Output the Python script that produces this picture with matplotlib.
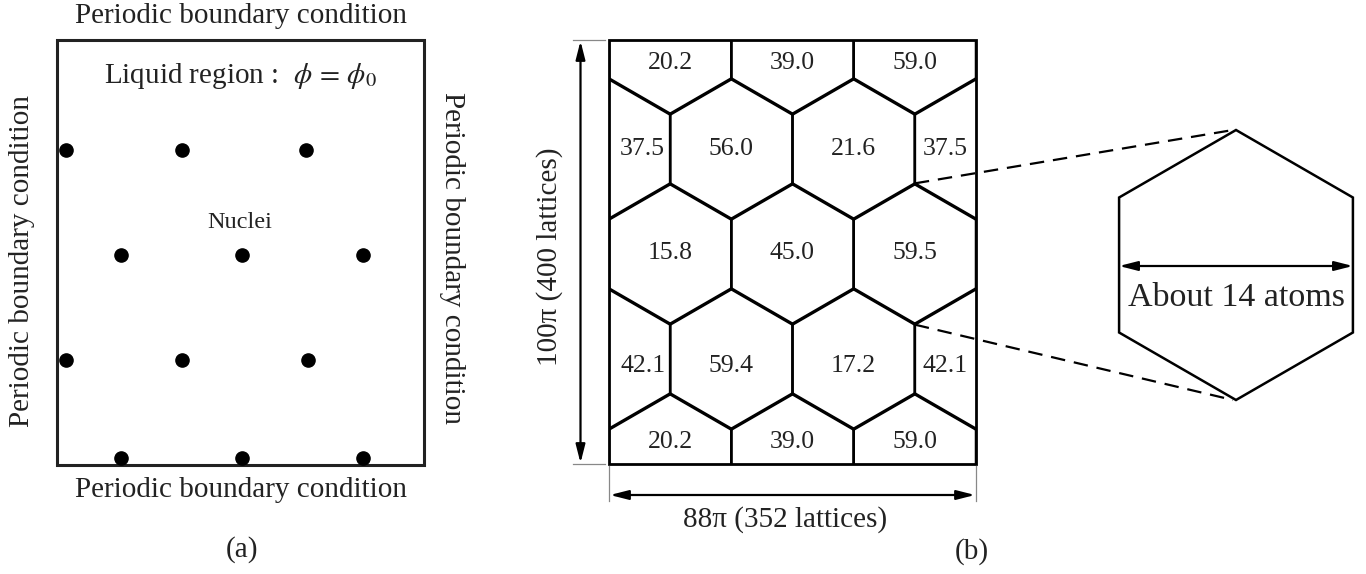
import numpy as np
import matplotlib
matplotlib.use('Agg')
from matplotlib import pyplot as plt
from matplotlib.patches import Polygon, Rectangle

plt.rcParams['font.family'] = ['Liberation Serif', 'DejaVu Serif']
plt.rcParams['mathtext.fontset'] = 'stix'

# panel (a): nuclei positions (pixels)
nuclei_x = [66, 182, 306, 121, 242, 363, 66, 182, 308, 121, 242, 363]
nuclei_y = [150, 150, 150, 255, 255, 255, 360, 360, 360, 458, 458, 458]

# panel (b): grain orientation labels, row by row (top to bottom)
grain_rows = [
    ['20.2', '39.0', '59.0'],
    ['37.5', '56.0', '21.6', '37.5'],
    ['15.8', '45.0', '59.5'],
    ['42.1', '59.4', '17.2', '42.1'],
    ['20.2', '39.0', '59.0'],
]
row_label_dy = [19, 0, -1, 7, -22]

pbc = 'Periodic boundary condition'
H_LABEL = '100\u03c0 (400 lattices)'
W_LABEL = '88\u03c0 (352 lattices)'
ZOOM_LABEL = 'About 14 atoms'


def hexagon(cx, cy, R):
    hw = R * np.sqrt(3) / 2
    return [(cx, cy - R), (cx + hw, cy - R / 2), (cx + hw, cy + R / 2),
            (cx, cy + R), (cx - hw, cy + R / 2), (cx - hw, cy - R / 2)]


fig = plt.figure(figsize=(13.66, 5.74), dpi=100)
ax = fig.add_axes([0, 0, 1, 1])
ax.set_xlim(0, 1366)
ax.set_ylim(574, 0)
ax.axis('off')

# ---------- (a) ----------
ax.add_patch(Rectangle((57, 40), 367, 425, fill=False, lw=2.2, ec='#222222'))
ax.plot(nuclei_x, nuclei_y, 'o', color='k', ms=9.5)
ax.text(241, 16, pbc, fontsize=21, ha='center', va='center', color='#222222')
ax.text(241, 490, pbc, fontsize=21, ha='center', va='center', color='#222222')
ax.text(22, 261, pbc, fontsize=21, ha='center', va='center', rotation=90, color='#222222')
ax.text(452, 258, pbc, fontsize=21, ha='center', va='center', rotation=270, color='#222222')
ax.text(240, 76, r'Liquid region :  $\phi\,=\,\phi_0$', fontsize=21, ha='center', va='center',
        color='#222222')
ax.text(240, 223, 'Nuclei', fontsize=17.5, ha='center', va='center', color='#222222')
ax.text(242, 550, '(a)', fontsize=21, ha='center', va='center', color='#222222')

# ---------- (b) ----------
x0, x1, y0, y1 = 609, 976, 40, 464
hw = (x1 - x0) / 6
R = hw * 2 / np.sqrt(3)
dy_row = 105
yc0 = y1 - 4 * dy_row

box = Rectangle((x0, y0), x1 - x0, y1 - y0, fill=False, lw=2, ec='k')
ax.add_patch(box)

for r, labels in enumerate(grain_rows):
    cy = yc0 + r * dy_row
    if r % 2 == 0:
        cxs = [x0 + hw * k for k in (1, 3, 5)]
        lxs = cxs
    else:
        cxs = [x0 + hw * k for k in (0, 2, 4, 6)]
        lxs = [x0 + 0.55 * hw, cxs[1], cxs[2], x1 - 0.5 * hw]
    for cx in cxs:
        p = Polygon(hexagon(cx, cy, R), closed=True, fill=False, lw=1.8, ec='k')
        ax.add_patch(p)
        p.set_clip_path(box)
    for lx, lab in zip(lxs, labels):
        ax.text(lx, cy + row_label_dy[r], lab, fontsize=18.5, ha='center', va='center',
                color='#222222')

# dimension lines
ext = dict(color='#888888', lw=0.9)
ax.plot([573, 605], [y0, y0], **ext)
ax.plot([573, 605], [y1, y1], **ext)
ax.plot([x0, x0], [y1 + 2, 501], **ext)
ax.plot([x1, x1], [y1 + 2, 501], **ext)
arrow = dict(arrowstyle='<|-|>,head_length=1.1,head_width=0.28', lw=1.6, color='k',
             shrinkA=0, shrinkB=0, mutation_scale=10)
ax.annotate('', xy=(580.5, y0 + 1), xytext=(580.5, y1 - 1), arrowprops=arrow)
ax.annotate('', xy=(x0 + 1, 495), xytext=(x1 - 1, 495), arrowprops=arrow)
ax.text(550, 257, H_LABEL, fontsize=21, ha='center', va='center', rotation=90, color='#222222')
ax.text(785, 520, W_LABEL, fontsize=21, ha='center', va='center', color='#222222')
ax.text(972, 552, '(b)', fontsize=21, ha='center', va='center', color='#222222')

# enlarged grain
zc = (1236, 265)
zR = 135
ax.add_patch(Polygon(hexagon(zc[0], zc[1], zR), closed=True, fill=False, lw=1.8, ec='k'))
zhw = zR * np.sqrt(3) / 2
ax.annotate('', xy=(zc[0] - zhw, 266), xytext=(zc[0] + zhw, 266), arrowprops=arrow)
ax.text(zc[0], 298, ZOOM_LABEL, fontsize=24.5, ha='center', va='center', color='#222222')

src_x = x0 + 5 * hw
src_cy = yc0 + 2 * dy_row
dash = (0, (6.5, 4))
ax.plot([src_x, zc[0] - 3], [src_cy - R, zc[1] - zR], color='k', lw=1.6, ls=dash)
ax.plot([src_x, zc[0] - 3], [src_cy + R, zc[1] + zR], color='k', lw=1.6, ls=dash)

fig.savefig('out.png', dpi=100)
